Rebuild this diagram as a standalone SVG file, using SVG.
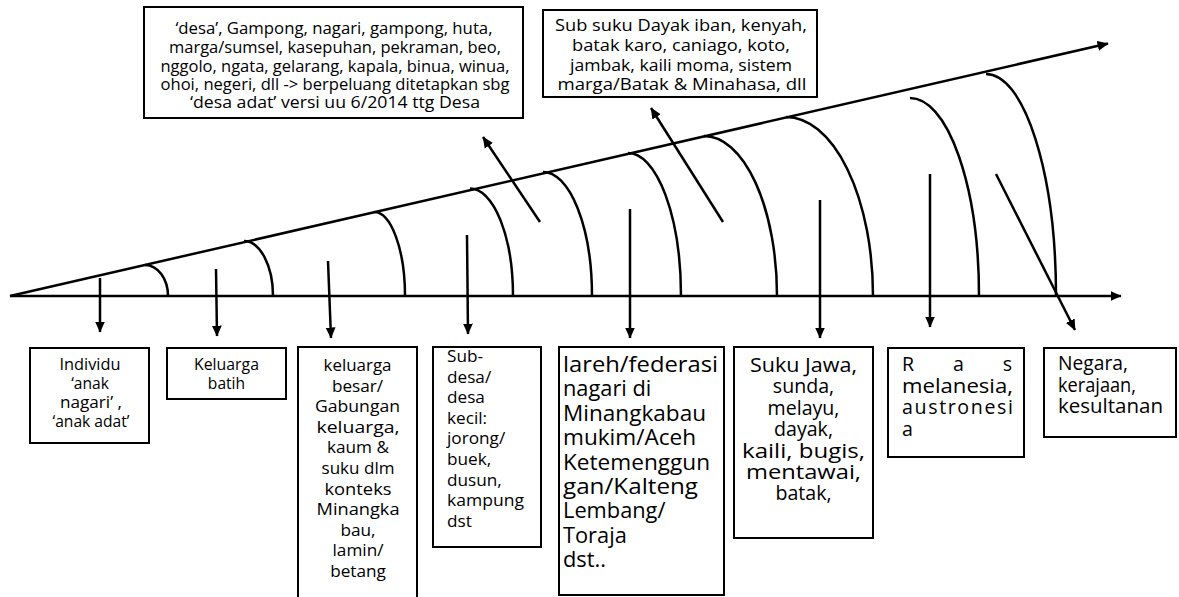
<svg xmlns="http://www.w3.org/2000/svg" width="1179" height="597" viewBox="0 0 1179 597">
<style>
.bg{fill:#ffffff}
.box{fill:#ffffff;stroke:#000000;stroke-width:2}
.ln{fill:none;stroke:#000000;stroke-width:2.5}
.ar{fill:none;stroke:#000000;stroke-width:2.5;marker-end:url(#ah)}
text{font-family:"Open Sans","Noto Sans","Liberation Sans",sans-serif;fill:#000000}
.c{text-anchor:middle}
.t1{font-size:16px}
.t2{font-size:17px}
.s1{font-size:15.6px}
.s3{font-size:17.2px}
.s5{font-size:21.8px}
.s6{font-size:19.6px}
</style>
<defs>
<marker id="ah" viewBox="0 0 10 10" refX="9.5" refY="5" markerWidth="11" markerHeight="11" markerUnits="userSpaceOnUse" orient="auto">
<path d="M0,0.5 L10,5 L0,9.5 z" fill="#000000"/>
</marker>
</defs>
<rect class="bg" x="0" y="0" width="1179" height="597"/>

<g id="connectors">
<line class="ar" x1="10" y1="296" x2="1121" y2="296"/>
<line class="ar" x1="10" y1="296" x2="1108" y2="43.5"/>
<path class="ln" d="M145,265 A23,31 0 0 1 168,296"/>
<path class="ln" d="M244,241 A29,55 0 0 1 273,296"/>
<path class="ln" d="M374,212 A31,84 0 0 1 405,296"/>
<path class="ln" d="M470,188.5 A43,107.5 0 0 1 513,296"/>
<path class="ln" d="M543,172 A49,124 0 0 1 592,296"/>
<path class="ln" d="M628,153 A53,143 0 0 1 681,296"/>
<path class="ln" d="M704,136 A73,160 0 0 1 777,296"/>
<path class="ln" d="M786,117 A87,179 0 0 1 873,296"/>
<path class="ln" d="M910,98 A69,198 0 0 1 979,296"/>
<path class="ln" d="M986,74 A70,222 0 0 1 1056,296"/>
<line class="ar" x1="100" y1="278" x2="100" y2="332"/>
<line class="ar" x1="216" y1="269" x2="217" y2="336"/>
<line class="ar" x1="328" y1="261" x2="331" y2="338"/>
<line class="ar" x1="467" y1="235" x2="468" y2="334"/>
<line class="ar" x1="630" y1="209" x2="630" y2="338"/>
<line class="ar" x1="820" y1="200" x2="820" y2="338"/>
<line class="ar" x1="930" y1="174" x2="930" y2="327"/>
<line class="ar" x1="996" y1="174" x2="1075" y2="330"/>
<line class="ar" x1="540" y1="222" x2="483" y2="137"/>
<line class="ar" x1="723" y1="222" x2="651" y2="108"/>
</g>

<g id="top-desa">
<rect class="box" x="144" y="7" width="379" height="111"/>
<text class="c t1" x="334" y="34" textLength="317" lengthAdjust="spacingAndGlyphs">‘desa’, Gampong, nagari, gampong, huta,</text>
<text class="c t1" x="335" y="53" textLength="332" lengthAdjust="spacingAndGlyphs">marga/sumsel, kasepuhan, pekraman, beo,</text>
<text class="c t1" x="335" y="72" textLength="349" lengthAdjust="spacingAndGlyphs">nggolo, ngata, gelarang, kapala, binua, winua,</text>
<text class="c t1" x="335" y="90" textLength="349" lengthAdjust="spacingAndGlyphs">ohoi, negeri, dll -&gt; berpeluang ditetapkan sbg</text>
<text class="c t1" x="335" y="108" textLength="290" lengthAdjust="spacingAndGlyphs">‘desa adat’ versi uu 6/2014 ttg Desa</text>
</g>

<g id="top-subsuku">
<rect class="box" x="543" y="10" width="274" height="87"/>
<text class="c t2" x="681" y="31" textLength="252" lengthAdjust="spacingAndGlyphs">Sub suku Dayak iban, kenyah,</text>
<text class="c t2" x="681" y="51" textLength="218" lengthAdjust="spacingAndGlyphs">batak karo, caniago, koto,</text>
<text class="c t2" x="681" y="71" textLength="222" lengthAdjust="spacingAndGlyphs">jambak, kaili moma, sistem</text>
<text class="c t2" x="682" y="90" textLength="249" lengthAdjust="spacingAndGlyphs">marga/Batak &amp; Minahasa, dll</text>
</g>

<g id="b1-individu">
<rect class="box" x="30" y="348" width="119" height="95"/>
<text class="c s1" x="90" y="370" textLength="61" lengthAdjust="spacingAndGlyphs">Individu</text>
<text class="c s1" x="90" y="389">‘anak</text>
<text class="c s1" x="91" y="408" textLength="62" lengthAdjust="spacingAndGlyphs">nagari’ ,</text>
<text class="c s1" x="91" y="427" textLength="77" lengthAdjust="spacingAndGlyphs">‘anak adat’</text>
</g>

<g id="b2-keluarga-batih">
<rect class="box" x="167" y="348" width="119" height="51"/>
<text class="c s1" x="226.5" y="370" textLength="65" lengthAdjust="spacingAndGlyphs">Keluarga</text>
<text class="c s1" x="226.5" y="389">batih</text>
</g>

<g id="b3-keluarga-besar">
<rect class="box" x="298" y="347" width="119" height="260"/>
<text class="c s3" x="357.5" y="371" textLength="68" lengthAdjust="spacingAndGlyphs">keluarga</text>
<text class="c s3" x="357.5" y="391.6">besar/</text>
<text class="c s3" x="357.5" y="412.2" textLength="85" lengthAdjust="spacingAndGlyphs">Gabungan</text>
<text class="c s3" x="358" y="432.8" textLength="83" lengthAdjust="spacingAndGlyphs">keluarga,</text>
<text class="c s3" x="358" y="453.4">kaum &amp;</text>
<text class="c s3" x="358" y="474" textLength="73" lengthAdjust="spacingAndGlyphs">suku dlm</text>
<text class="c s3" x="358" y="494.6" textLength="67" lengthAdjust="spacingAndGlyphs">konteks</text>
<text class="c s3" x="358" y="515.2" textLength="83" lengthAdjust="spacingAndGlyphs">Minangka</text>
<text class="c s3" x="358" y="535.8">bau,</text>
<text class="c s3" x="358" y="556.4">lamin/</text>
<text class="c s3" x="358" y="577">betang</text>
</g>

<g id="b4-subdesa">
<rect class="box" x="433" y="347" width="108" height="200"/>
<text class="s3" x="447" y="362">Sub-</text>
<text class="s3" x="447" y="382.6">desa/</text>
<text class="s3" x="447" y="403.2">desa</text>
<text class="s3" x="447" y="423.8">kecil:</text>
<text class="s3" x="447" y="444.4">jorong/</text>
<text class="s3" x="447" y="465">buek,</text>
<text class="s3" x="447" y="485.6">dusun,</text>
<text class="s3" x="447" y="506.2" textLength="77" lengthAdjust="spacingAndGlyphs">kampung</text>
<text class="s3" x="447" y="526.8">dst</text>
</g>

<g id="b5-lareh">
<rect class="box" x="559" y="347" width="165" height="248"/>
<text class="s5" x="563" y="372" textLength="155" lengthAdjust="spacingAndGlyphs">lareh/federasi</text>
<text class="s5" x="563" y="396.4">nagari di</text>
<text class="s5" x="563" y="420.8" textLength="143" lengthAdjust="spacingAndGlyphs">Minangkabau</text>
<text class="s5" x="563" y="445.2" textLength="133" lengthAdjust="spacingAndGlyphs">mukim/Aceh</text>
<text class="s5" x="563" y="469.6" textLength="147" lengthAdjust="spacingAndGlyphs">Ketemenggun</text>
<text class="s5" x="563" y="494" textLength="135" lengthAdjust="spacingAndGlyphs">gan/Kalteng</text>
<text class="s5" x="563" y="518.4">Lembang/</text>
<text class="s5" x="563" y="542.8">Toraja</text>
<text class="s5" x="563" y="567.2">dst..</text>
</g>

<g id="b6-suku">
<rect class="box" x="734" y="347" width="139" height="191"/>
<text class="c s6" x="803.5" y="372" textLength="107" lengthAdjust="spacingAndGlyphs">Suku Jawa,</text>
<text class="c s6" x="803.5" y="393.4">sunda,</text>
<text class="c s6" x="803.5" y="414.8">melayu,</text>
<text class="c s6" x="803.5" y="436.2">dayak,</text>
<text class="c s6" x="803.5" y="457.6" textLength="123" lengthAdjust="spacingAndGlyphs">kaili, bugis,</text>
<text class="c s6" x="803.5" y="479" textLength="115" lengthAdjust="spacingAndGlyphs">mentawai,</text>
<text class="c s6" x="803.5" y="500.4">batak,</text>
</g>

<g id="b7-ras">
<rect class="box" x="888" y="348" width="136" height="109"/>
<text class="s6" x="902" y="371" textLength="110" lengthAdjust="spacing">Ras</text>
<text class="s6" x="902" y="392.5" textLength="111" lengthAdjust="spacingAndGlyphs">melanesia,</text>
<text class="s6" x="902" y="414" textLength="111" lengthAdjust="spacing">austronesi</text>
<text class="s6" x="902" y="435.5">a</text>
</g>

<g id="b8-negara">
<rect class="box" x="1044" y="348" width="132" height="89"/>
<text class="s6" x="1058" y="370" textLength="70" lengthAdjust="spacingAndGlyphs">Negara,</text>
<text class="s6" x="1058" y="391.5" textLength="78" lengthAdjust="spacingAndGlyphs">kerajaan,</text>
<text class="s6" x="1058" y="413" textLength="105" lengthAdjust="spacingAndGlyphs">kesultanan</text>
</g>
</svg>
